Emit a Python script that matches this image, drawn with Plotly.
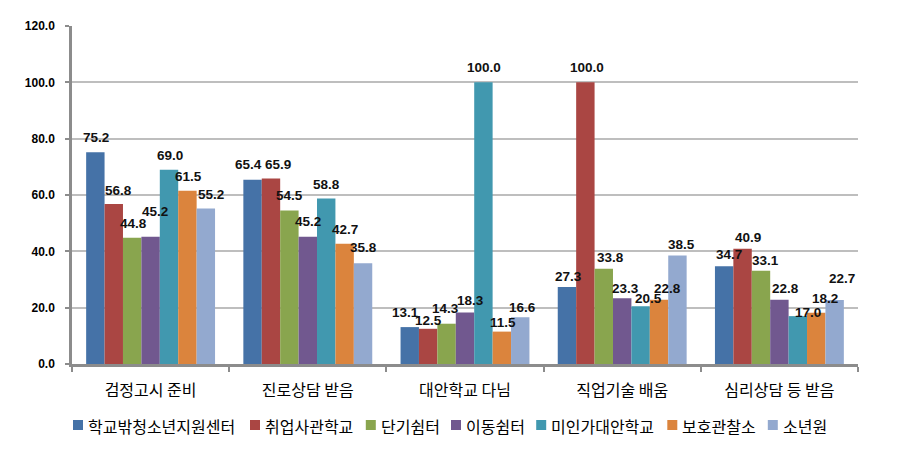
import plotly.graph_objects as go

categories = ["검정고시 준비", "진로상담 받음", "대안학교 다님", "직업기술 배움", "심리상담 등 받음"]
series_names = ["학교밖청소년지원센터", "취업사관학교", "단기쉼터", "이동쉼터", "미인가대안학교", "보호관찰소", "소년원"]
values = [
    [75.2, 65.4, 13.1, 27.3, 34.7],
    [56.8, 65.9, 12.5, 100.0, 40.9],
    [44.8, 54.5, 14.3, 33.8, 33.1],
    [45.2, 45.2, 18.3, 23.3, 22.8],
    [69.0, 58.8, 100.0, 20.5, 17.0],
    [61.5, 42.7, 11.5, 22.8, 18.2],
    [55.2, 35.8, 16.6, 38.5, 22.7],
]
colors = ["#4572A7", "#AA4643", "#89A54E", "#71588F", "#4198AF", "#DB843D", "#93A9CF"]
y_ticks = [0, 20, 40, 60, 80, 100, 120]

# label nudges (dx, dy in px; dy = label centre above bar top), as placed in the original
label_nudge = [
    [(1, 15), (-4, 15), (-4, 15), (2, 10.8), (5, 11.9)],
    [(5, 13.7), (7, 13.7), (0.5, 8.3), (2, 14.8), (5, 11.3)],
    [(1, 14.8), (0.4, 14.5), (-1, 15.7), (7, 11), (5, 10.7)],
    [(4, 24.7), (0.4, 14.7), (5, 12), (3.6, 10), (5.8, 10.8)],
    [(1, 14.3), (0.6, 14), (0.6, 14.8), (8, 7.8), (10.4, 3.4)],
    [(1.2, 14.5), (0.7, 14), (1.3, 9.4), (8.4, 10.8), (8.4, 14.2)],
    [(5, 14.2), (0.8, 15.2), (2.2, 9.7), (4, 11.3), (7.5, 21.1)],
]

# page body has an 8px margin: work in window pixels, convert to figure pixels
OFF = 8
W, H = 901 - OFF, 454 - OFF
PLOT_L, PLOT_R, PLOT_T, PLOT_B = 72, 858, 26, 364  # window pixels
ML, MR, MT, MB = PLOT_L - OFF, W - (PLOT_R - OFF), PLOT_T - OFF, H - (PLOT_B - OFF)
PW, PH = PLOT_R - PLOT_L, PLOT_B - PLOT_T
BARGAP = 0.18
n_series = len(series_names)
group_px = PW / len(categories)
bar_px = group_px * (1 - BARGAP) / n_series


def px_x(px):
    return (px - PLOT_L) / PW


def px_y(py):
    return (PLOT_B - py) / PH


fig = go.Figure()
for name, vals, c in zip(series_names, values, colors):
    fig.add_trace(go.Bar(
        x=categories, y=vals, name=name,
        marker=dict(color=c, line=dict(width=0)),
        showlegend=False,
    ))

annotations = []
for i, vals in enumerate(values):
    for j, (cat, v) in enumerate(zip(categories, vals)):
        dx, dy = label_nudge[i][j]
        annotations.append(dict(
            x=cat, y=v, xref="x", yref="y", text=f"{v:.1f}", showarrow=False,
            xanchor="center", yanchor="middle", yshift=dy,
            xshift=(i - (n_series - 1) / 2) * bar_px + dx,
            font=dict(family="Liberation Sans, Arial", size=13.5, color="#111111", weight="bold"),
        ))

# custom legend (window pixels)
shapes = []
char_w = 15.3
x0 = 73
leg_y = 425
for name, c in zip(series_names, colors):
    shapes.append(dict(type="rect", xref="paper", yref="paper",
                       x0=px_x(x0), x1=px_x(x0 + 10), y0=px_y(leg_y + 5), y1=px_y(leg_y - 5),
                       fillcolor=c, line=dict(width=0)))
    annotations.append(dict(x=px_x(x0 + 13), y=px_y(leg_y + 1), xref="paper", yref="paper",
                            text=name, showarrow=False, xanchor="left", yanchor="middle",
                            font=dict(family="Noto Sans CJK KR", size=16, color="#000000")))
    x0 += 13 + len(name) * char_w + 11

fig.update_layout(
    width=W, height=H,
    margin=dict(l=ML, r=MR, t=MT, b=MB, autoexpand=False),
    paper_bgcolor="white", plot_bgcolor="white",
    barmode="group", bargap=BARGAP, bargroupgap=0,
    font=dict(family="Noto Sans CJK KR", color="#000000"),
    showlegend=False,
    annotations=annotations, shapes=shapes,
)
fig.update_yaxes(
    range=[0, 120], tickvals=y_ticks, ticktext=[f"{v:.1f}" for v in y_ticks],
    showgrid=True, gridcolor="#BEBEBE", gridwidth=1.5,
    showline=True, linecolor="#8C8C8C", linewidth=2.5,
    ticks="outside", ticklen=4, tickcolor="#8C8C8C", tickwidth=1.5,
    ticklabelstandoff=8,
    tickfont=dict(family="Liberation Sans, Arial", size=12, color="#000000", weight="bold"),
    zeroline=False, automargin=False,
)
fig.update_xaxes(
    showline=True, linecolor="#8C8C8C", linewidth=2.5,
    ticks="outside", tickson="boundaries", ticklen=5, tickcolor="#8C8C8C", tickwidth=1.5,
    ticklabelstandoff=10,
    tickfont=dict(family="Noto Sans CJK KR", size=16, color="#000000"),
    automargin=False,
)
fig.write_html("out.html")
